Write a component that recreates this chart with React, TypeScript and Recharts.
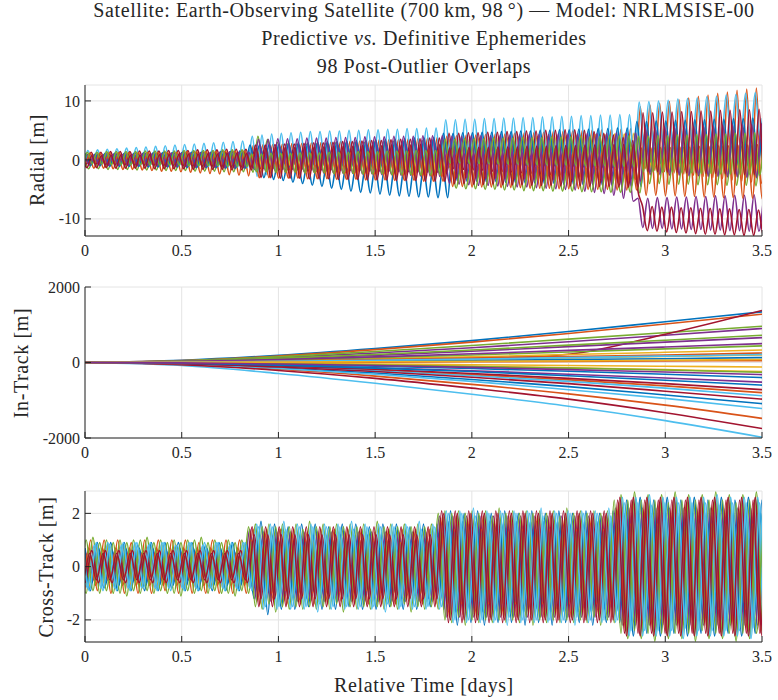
import { LineChart, Line, XAxis, YAxis, CartesianGrid } from "recharts";

const SERIF = "'Liberation Serif', 'DejaVu Serif', 'Noto Serif', Tinos, serif";
const INK = "#262626";

const BLUE = "#0072BD";
const ORANGE = "#D95319";
const YELLOW = "#EDB120";
const PURPLE = "#7E2F8E";
const GREEN = "#77AC30";
const LIGHTBLUE = "#4DBEEE";
const RED = "#A2142F";

const xTicks = [0, 0.5, 1, 1.5, 2, 2.5, 3, 3.5];

// ---------------- Radial [m] : sampled at peaks / troughs, 0.025 d apart ----------------
const radialStep = 0.025;
const radialPhase = [0, 0.029, 0.012, 0.041, 0.006, 0.035, 0.018, 0.047, 0.024, 0.003, 0.038, 0.015];
const radialColors = [BLUE, ORANGE, YELLOW, PURPLE, GREEN, LIGHTBLUE, RED, BLUE, ORANGE, PURPLE, GREEN, RED];

const radialA = [
  0.8, -0.8, 0.9, -0.8, 0.9, -0.9, 1.0, -0.9, 1.0, -1.0,
  1.0, -1.0, 1.1, -1.1, 1.1, -1.1, 1.2, -1.1, 1.2, -1.2,
  1.2, -1.2, 1.3, -1.3, 1.3, -1.3, 1.3, -1.4, 1.4, -1.4,
  1.4, -1.5, 1.5, -1.5, 1.5, -1.6,
  0.5, -3.0, 0.3, -3.3, 0.2, -3.5, 0.0, -3.8, -0.2, -4.0,
  -0.3, -4.3, -0.5, -4.5, -0.6, -4.8, -0.8, -5.0, -0.9, -5.3,
  -1.0, -5.5, -1.0, -5.6, -1.1, -5.8, -1.1, -6.0, -1.2, -6.1,
  -1.2, -6.2, -1.3, -6.3, -1.3, -6.3, -1.2, -6.4, -1.2, -6.4,
  2.0, -3.5, 2.0, -3.6, 2.1, -3.6, 2.1, -3.7, 2.2, -3.7,
  2.2, -3.8, 2.3, -3.8, 2.3, -3.9, 2.4, -3.9, 2.4, -4.0,
  2.5, -4.0, 2.5, -4.1, 2.6, -4.1, 2.6, -4.2, 2.7, -4.2,
  2.7, -4.3, 2.8, -4.3, 2.8, -4.4, 2.9, -4.4, 2.9, -4.5,
  5.0, -2.0, 5.1, -2.1, 5.2, -2.2, 5.3, -2.3, 5.4, -2.4,
  5.5, -2.5, 5.6, -2.6, 5.7, -2.7, 5.8, -2.8, 5.9, -2.9,
  6.0, -3.0, 6.1, -3.1, 6.2, -3.2, 6.3,
];
const radialB = [
  0.7, -1.3, 0.7, -1.4, 0.8, -1.4, 0.8, -1.5, 0.9, -1.6,
  0.9, -1.6, 1.0, -1.7, 1.0, -1.8, 1.0, -1.9, 1.1, -1.9,
  1.1, -2.0, 1.2, -2.1, 1.2, -2.2, 1.3, -2.3, 1.3, -2.4,
  1.4, -2.5, 1.4, -2.6, 1.5, -2.7,
  2.5, -1.5, 2.6, -1.6, 2.6, -1.7, 2.7, -1.7, 2.8, -1.8,
  2.8, -1.9, 2.9, -2.0, 3.0, -2.0, 3.0, -2.1, 3.1, -2.2,
  3.2, -2.2, 3.2, -2.3, 3.3, -2.4, 3.4, -2.4, 3.4, -2.5,
  3.5, -2.6, 3.6, -2.6, 3.6, -2.7, 3.7, -2.8, 3.8, -2.8,
  4.0, -2.0, 4.1, -2.1, 4.2, -2.1, 4.2, -2.2, 4.3, -2.3,
  4.4, -2.3, 4.4, -2.4, 4.5, -2.5, 4.6, -2.5, 4.6, -2.6,
  4.7, -2.7, 4.8, -2.7, 4.8, -2.8, 4.9, -2.9, 5.0, -2.9,
  5.0, -3.0, 5.1, -3.1, 5.2, -3.1, 5.2, -3.2, 5.3, -3.3,
  9.0, -1.5, 9.3, -1.8, 9.6, -2.0, 9.9, -2.2, 10.2, -2.4,
  10.5, -2.6, 10.8, -2.8, 11.0, -3.0, 11.3, -3.2, 11.5, -3.4,
  11.8, -3.6, 12.0, -3.8, 12.2, -4.0, 12.3,
];
const radialC = [
  0.5, -0.5, 0.5, -0.6, 0.6, -0.6, 0.6, -0.6, 0.6, -0.7,
  0.7, -0.7, 0.7, -0.7, 0.7, -0.8, 0.8, -0.8, 0.8, -0.8,
  0.8, -0.9, 0.9, -0.9, 0.9, -0.9, 0.9, -1.0, 1.0, -1.0,
  1.0, -1.0, 1.0, -1.1, 1.1, -1.1,
  2.0, -1.0, 2.0, -1.0, 2.1, -1.1, 2.1, -1.1, 2.2, -1.2,
  2.2, -1.2, 2.3, -1.3, 2.3, -1.3, 2.3, -1.3, 2.4, -1.4,
  2.4, -1.4, 2.5, -1.5, 2.5, -1.5, 2.5, -1.5, 2.6, -1.6,
  2.6, -1.6, 2.7, -1.7, 2.7, -1.7, 2.7, -1.7, 2.8, -1.8,
  3.5, -0.5, 3.6, -0.6, 3.6, -0.6, 3.7, -0.7, 3.7, -0.7,
  3.8, -0.8, 3.8, -0.8, 3.9, -0.9, 3.9, -0.9, 4.0, -1.0,
  4.0, -1.0, 4.1, -1.1, 4.1, -1.1, 4.2, -1.2, 4.2, -1.2,
  4.3, -1.3, 4.3, -1.3, 4.4, -1.4, 4.4, -1.4, 4.5, -1.5,
  2.5, -2.5, 2.6, -2.5, 2.6, -2.6, 2.7, -2.6, 2.7, -2.7,
  2.8, -2.7, 2.8, -2.8, 2.9, -2.8, 2.9, -2.9, 3.0, -2.9,
  3.0, -3.0, 3.1, -3.0, 3.1, -3.1, 3.2,
];
const radialD = [
  1.0, -0.6, 1.0, -0.6, 1.1, -0.7, 1.1, -0.7, 1.1, -0.7,
  1.2, -0.8, 1.2, -0.8, 1.2, -0.8, 1.3, -0.9, 1.3, -0.9,
  1.3, -0.9, 1.4, -1.0, 1.4, -1.0, 1.4, -1.0, 1.5, -1.1,
  1.5, -1.1, 1.5, -1.1, 1.6, -1.2,
  1.8, -1.8, 1.9, -1.9, 1.9, -1.9, 2.0, -2.0, 2.0, -2.0,
  2.1, -2.1, 2.1, -2.1, 2.2, -2.2, 2.2, -2.2, 2.3, -2.3,
  2.3, -2.3, 2.4, -2.4, 2.4, -2.4, 2.5, -2.5, 2.5, -2.5,
  2.6, -2.6, 2.6, -2.6, 2.7, -2.7, 2.7, -2.7, 2.8, -2.8,
  1.0, -4.0, 1.0, -4.1, 1.1, -4.2, 1.1, -4.3, 1.2, -4.3,
  1.2, -4.4, 1.2, -4.5, 1.3, -4.6, 1.3, -4.6, 1.3, -4.7,
  1.3, -4.8, 1.3, -4.9, 1.2, -5.0, 1.1, -5.1, 1.0, -5.3,
  0.9, -5.5, 0.7, -5.7, 0.5, -6.0, 0.2, -6.5, 0.0, -7.0,
  -6.5, -11.5, -6.5, -11.6, -6.4, -11.6, -6.4, -11.7, -6.3, -11.7,
  -6.3, -11.8, -6.2, -11.8, -6.2, -11.9, -6.1, -11.9, -6.1, -12.0,
  -6.0, -12.0, -6.0, -12.1, -5.9, -12.1, -5.9,
];
const radialE = [
  0.5, -1.5, 0.5, -1.5, 0.6, -1.6, 0.6, -1.6, 0.6, -1.6,
  0.7, -1.7, 0.7, -1.7, 0.7, -1.7, 0.8, -1.8, 0.8, -1.8,
  0.8, -1.8, 0.9, -1.9, 0.9, -1.9, 0.9, -1.9, 1.0, -2.0,
  1.0, -2.0, 1.0, -2.0, 1.1, -2.1,
  4.0, -0.5, 3.5, -0.5, 3.0, -0.6, 2.8, -0.6, 2.7, -0.7,
  2.7, -0.7, 2.8, -0.8, 2.8, -0.8, 2.9, -0.9, 2.9, -0.9,
  3.0, -1.0, 3.0, -1.0, 3.1, -1.1, 3.1, -1.1, 3.2, -1.2,
  3.2, -1.2, 3.3, -1.3, 3.3, -1.3, 3.4, -1.4, 3.4, -1.4,
  -1.0, -4.8, -1.0, -4.9, -1.1, -4.9, -1.1, -5.0, -1.1, -5.0,
  -1.2, -5.1, -1.2, -5.1, -1.2, -5.2, -1.3, -5.2, -1.3, -5.2,
  -1.3, -5.3, -1.4, -5.3, -1.4, -5.3, -1.4, -5.4, -1.5, -5.4,
  -1.5, -5.4, -1.5, -5.5, -1.6, -5.5, -1.6, -5.5, -1.6, -5.6,
  2.0, -4.0, 2.0, -4.0, 2.1, -4.1, 2.1, -4.1, 2.1, -4.1,
  2.2, -4.2, 2.2, -4.2, 2.2, -4.2, 2.3, -4.3, 2.3, -4.3,
  2.3, -4.3, 2.4, -4.4, 2.4, -4.4, 2.4,
];
const radialF = [
  1.5, -0.5, 1.6, -0.5, 1.7, -0.6, 1.8, -0.6, 1.9, -0.6,
  2.0, -0.7, 2.1, -0.7, 2.2, -0.8, 2.3, -0.8, 2.4, -0.9,
  2.5, -0.9, 2.6, -1.0, 2.7, -1.0, 2.8, -1.1, 2.9, -1.1,
  3.0, -1.2, 3.1, -1.2, 3.2, -1.3,
  4.0, -2.8, 4.2, -2.5, 4.4, -2.0, 4.5, -1.5, 4.6, -1.0,
  4.7, -0.8, 4.8, -0.8, 4.8, -0.8, 4.9, -0.9, 4.9, -0.9,
  5.0, -1.0, 5.0, -1.0, 5.1, -1.1, 5.1, -1.1, 5.2, -1.2,
  5.2, -1.2, 5.3, -1.3, 5.3, -1.3, 5.4, -1.4, 5.4, -1.4,
  6.8, -0.5, 6.8, -0.5, 6.9, -0.6, 6.9, -0.6, 7.0, -0.7,
  7.0, -0.7, 7.1, -0.8, 7.1, -0.8, 7.2, -0.9, 7.2, -0.9,
  7.3, -1.0, 7.3, -1.0, 7.4, -1.1, 7.4, -1.1, 7.5, -1.2,
  7.5, -1.2, 7.6, -1.3, 7.6, -1.3, 7.7, -1.4, 7.7, -1.4,
  9.8, 2.0, 9.9, 2.2, 10.0, 2.4, 10.1, 2.5, 10.3, 2.7,
  10.4, 2.8, 10.5, 3.0, 10.7, 3.1, 10.8, 3.2, 11.0, 3.3,
  11.1, 3.4, 11.3, 3.5, 11.4, 3.6, 11.5,
];
const radialG = [
  1.3, -0.7, 1.3, -0.7, 1.3, -0.8, 1.4, -0.8, 1.4, -0.8,
  1.4, -0.9, 1.5, -0.9, 1.5, -0.9, 1.5, -1.0, 1.6, -1.0,
  1.6, -1.0, 1.6, -1.1, 1.7, -1.1, 1.7, -1.1, 1.7, -1.2,
  1.8, -1.2, 1.8, -1.2, 1.8, -1.3,
  2.5, -1.5, 2.5, -1.6, 2.6, -1.7, 2.7, -1.7, 2.7, -1.8,
  2.8, -1.9, 2.9, -1.9, 2.9, -2.0, 3.0, -2.1, 3.1, -2.1,
  3.1, -2.2, 3.2, -2.3, 3.3, -2.3, 3.3, -2.4, 3.4, -2.5,
  3.5, -2.5, 3.5, -2.6, 3.6, -2.7, 3.7, -2.7, 3.7, -2.8,
  4.5, -1.5, 4.5, -1.6, 4.6, -1.7, 4.6, -1.8, 4.7, -1.9,
  4.7, -2.0, 4.8, -2.1, 4.8, -2.2, 4.9, -2.3, 4.9, -2.4,
  5.0, -2.5, 5.0, -2.6, 5.1, -2.7, 5.1, -2.8, 5.0, -3.0,
  4.8, -3.3, 4.5, -3.6, 4.2, -4.0, 3.8, -4.5, 3.3, -5.0,
  -7.8, -12.0, -7.9, -12.1, -8.0, -12.2, -8.0, -12.3, -8.1, -12.4,
  -8.1, -12.5, -8.2, -12.6, -8.2, -12.6, -8.3, -12.7, -8.3, -12.7,
  -8.4, -12.8, -8.4, -12.8, -8.5, -12.8, -8.5,
];
const radialH = [
  1.0, -1.0, 1.0, -1.0, 1.0, -1.0, 1.1, -1.1, 1.1, -1.1,
  1.1, -1.1, 1.1, -1.1, 1.2, -1.2, 1.2, -1.2, 1.2, -1.2,
  1.2, -1.2, 1.3, -1.3, 1.3, -1.3, 1.3, -1.3, 1.3, -1.3,
  1.4, -1.4, 1.4, -1.4, 1.4, -1.4,
  2.5, -0.5, 2.6, -0.6, 2.7, -0.6, 2.7, -0.7, 2.8, -0.8,
  2.9, -0.8, 2.9, -0.9, 3.0, -1.0, 3.1, -1.0, 3.1, -1.1,
  3.2, -1.2, 3.3, -1.2, 3.3, -1.3, 3.4, -1.4, 3.5, -1.4,
  3.5, -1.5, 3.6, -1.6, 3.7, -1.6, 3.7, -1.7, 3.8, -1.8,
  4.5, -0.5, 4.5, -0.5, 4.6, -0.6, 4.6, -0.6, 4.7, -0.7,
  4.7, -0.7, 4.8, -0.8, 4.8, -0.8, 4.9, -0.9, 4.9, -0.9,
  5.0, -1.0, 5.0, -1.0, 5.1, -1.1, 5.1, -1.1, 5.2, -1.2,
  5.2, -1.2, 5.3, -1.3, 5.3, -1.3, 5.4, -1.4, 5.4, -1.4,
  6.5, -0.5, 6.5, -0.5, 6.6, -0.6, 6.6, -0.6, 6.7, -0.7,
  6.7, -0.7, 6.8, -0.8, 6.8, -0.8, 6.9, -0.9, 6.9, -0.9,
  7.0, -1.0, 7.0, -1.0, 7.1, -1.1, 7.1,
];
const radialI = [
  1.1, -0.5, 1.1, -0.5, 1.1, -0.5, 1.2, -0.6, 1.2, -0.6,
  1.2, -0.6, 1.2, -0.6, 1.3, -0.7, 1.3, -0.7, 1.3, -0.7,
  1.3, -0.7, 1.4, -0.8, 1.4, -0.8, 1.4, -0.8, 1.4, -0.8,
  1.5, -0.9, 1.5, -0.9, 1.5, -0.9,
  1.0, -3.0, 1.0, -3.0, 1.0, -3.1, 1.1, -3.1, 1.1, -3.1,
  1.1, -3.2, 1.2, -3.2, 1.2, -3.2, 1.2, -3.3, 1.3, -3.3,
  1.3, -3.3, 1.3, -3.4, 1.4, -3.4, 1.4, -3.4, 1.4, -3.5,
  1.5, -3.5, 1.5, -3.5, 1.5, -3.6, 1.6, -3.6, 1.6, -3.6,
  1.5, -4.5, 1.5, -4.5, 1.6, -4.6, 1.6, -4.6, 1.6, -4.6,
  1.7, -4.7, 1.7, -4.7, 1.7, -4.7, 1.8, -4.8, 1.8, -4.8,
  1.8, -4.8, 1.9, -4.9, 1.9, -4.9, 1.9, -4.9, 2.0, -5.0,
  2.0, -5.0, 2.0, -5.0, 2.1, -5.1, 2.1, -5.1, 2.1, -5.1,
  2.0, -6.0, 2.0, -6.0, 2.1, -6.1, 2.1, -6.1, 2.2, -6.2,
  2.2, -6.2, 2.3, -6.3, 2.3, -6.3, 2.4, -6.4, 2.4, -6.4,
  2.5, -6.5, 2.5, -6.5, 2.6, -6.6, 2.6,
];
const radialJ = [
  0.8, -0.8, 0.8, -0.8, 0.8, -0.9, 0.9, -0.9, 0.9, -0.9,
  0.9, -1.0, 1.0, -1.0, 1.0, -1.0, 1.0, -1.1, 1.1, -1.1,
  1.1, -1.1, 1.1, -1.2, 1.2, -1.2, 1.2, -1.2, 1.2, -1.3,
  1.3, -1.3, 1.3, -1.3, 1.3, -1.4,
  3.5, -1.5, 3.5, -1.5, 3.6, -1.6, 3.6, -1.6, 3.6, -1.6,
  3.7, -1.7, 3.7, -1.7, 3.7, -1.7, 3.8, -1.8, 3.8, -1.8,
  3.8, -1.8, 3.9, -1.9, 3.9, -1.9, 3.9, -1.9, 4.0, -2.0,
  4.0, -2.0, 4.0, -2.0, 4.1, -2.1, 4.1, -2.1, 4.1, -2.1,
  4.0, -3.0, 4.0, -3.0, 4.1, -3.1, 4.1, -3.1, 4.1, -3.1,
  4.2, -3.2, 4.2, -3.2, 4.2, -3.2, 4.3, -3.3, 4.3, -3.3,
  4.3, -3.3, 4.4, -3.4, 4.4, -3.4, 4.4, -3.4, 4.5, -3.5,
  4.5, -3.5, 4.5, -3.5, 4.6, -3.6, 4.6, -3.6, 4.6, -3.6,
  5.5, -2.5, 5.5, -2.5, 5.6, -2.6, 5.6, -2.6, 5.7, -2.7,
  5.7, -2.7, 5.8, -2.8, 5.8, -2.8, 5.9, -2.9, 5.9, -2.9,
  6.0, -3.0, 6.0, -3.0, 6.1, -3.1, 6.1,
];
const radialK = [
  1.3, -0.7, 1.3, -0.7, 1.3, -0.7, 1.4, -0.8, 1.4, -0.8,
  1.4, -0.8, 1.4, -0.8, 1.5, -0.9, 1.5, -0.9, 1.5, -0.9,
  1.5, -0.9, 1.6, -1.0, 1.6, -1.0, 1.6, -1.0, 1.6, -1.0,
  1.7, -1.1, 1.7, -1.1, 1.7, -1.1,
  1.0, -2.0, 1.0, -2.0, 1.1, -2.1, 1.1, -2.1, 1.1, -2.1,
  1.2, -2.2, 1.2, -2.2, 1.2, -2.2, 1.3, -2.3, 1.3, -2.3,
  1.3, -2.3, 1.4, -2.4, 1.4, -2.4, 1.4, -2.4, 1.5, -2.5,
  1.5, -2.5, 1.5, -2.5, 1.6, -2.6, 1.6, -2.6, 1.6, -2.6,
  3.5, -0.5, 3.5, -0.5, 3.6, -0.6, 3.6, -0.6, 3.6, -0.6,
  3.7, -0.7, 3.7, -0.7, 3.7, -0.7, 3.8, -0.8, 3.8, -0.8,
  3.8, -0.8, 3.9, -0.9, 3.9, -0.9, 3.9, -0.9, 4.0, -1.0,
  4.0, -1.0, 4.0, -1.0, 4.1, -1.1, 4.1, -1.1, 4.1, -1.1,
  4.0, -2.0, 4.0, -2.0, 4.1, -2.1, 4.1, -2.1, 4.2, -2.2,
  4.2, -2.2, 4.3, -2.3, 4.3, -2.3, 4.4, -2.4, 4.4, -2.4,
  4.5, -2.5, 4.5, -2.5, 4.6, -2.6, 4.6,
];
const radialL = [
  0.7, -1.3, 0.7, -1.3, 0.7, -1.3, 0.8, -1.4, 0.8, -1.4,
  0.8, -1.4, 0.8, -1.4, 0.9, -1.5, 0.9, -1.5, 0.9, -1.5,
  0.9, -1.5, 1.0, -1.6, 1.0, -1.6, 1.0, -1.6, 1.0, -1.6,
  1.1, -1.7, 1.1, -1.7, 1.1, -1.7,
  2.0, -3.0, 2.0, -3.0, 2.1, -3.1, 2.1, -3.1, 2.1, -3.1,
  2.2, -3.2, 2.2, -3.2, 2.2, -3.2, 2.3, -3.3, 2.3, -3.3,
  2.3, -3.3, 2.4, -3.4, 2.4, -3.4, 2.4, -3.4, 2.5, -3.5,
  2.5, -3.5, 2.5, -3.5, 2.6, -3.6, 2.6, -3.6, 2.6, -3.6,
  2.0, -4.0, 2.0, -4.0, 2.1, -4.1, 2.1, -4.1, 2.1, -4.1,
  2.2, -4.2, 2.2, -4.2, 2.2, -4.2, 2.3, -4.3, 2.3, -4.3,
  2.3, -4.3, 2.4, -4.4, 2.4, -4.4, 2.4, -4.4, 2.5, -4.5,
  2.5, -4.5, 2.5, -4.5, 2.6, -4.6, 2.6, -4.6, 2.6, -4.6,
  8.0, -2.0, 8.0, -2.0, 8.1, -2.1, 8.1, -2.1, 8.2, -2.2,
  8.2, -2.2, 8.3, -2.3, 8.3, -2.3, 8.4, -2.4, 8.4, -2.4,
  8.5, -2.5, 8.5, -2.5, 8.6, -2.6, 8.6,
];
const radialRuns = [radialA, radialB, radialC, radialD, radialE, radialF, radialG, radialH, radialI, radialJ, radialK, radialL];

// ---------------- In-Track [m] : read every 0.5 d ----------------
const inTrackTimes = [0, 0.5, 1, 1.5, 2, 2.5, 3, 3.5];
const inTrackColors = [BLUE, ORANGE, YELLOW, PURPLE, GREEN, LIGHTBLUE, RED];
const inTrackRuns = [
  [0, 60, 190, 370, 580, 820, 1080, 1340],
  [0, 50, 170, 340, 540, 770, 1020, 1280],
  [0, 10, 30, 55, 85, 120, 160, 200],
  [0, 40, 130, 250, 390, 550, 720, 900],
  [0, 45, 150, 290, 450, 620, 790, 960],
  [0, -80, -290, -550, -840, -1160, -1540, -1980],
  [0, 15, 40, 70, 100, 220, 750, 1380],
  [0, -40, -140, -280, -450, -640, -860, -1090],
  [0, -50, -180, -360, -580, -830, -1130, -1480],
  [0, -10, -30, -60, -100, -140, -190, -240],
  [0, 30, 100, 190, 300, 420, 540, 660],
  [0, 35, 110, 210, 330, 460, 590, 720],
  [0, -45, -160, -310, -500, -720, -950, -1220],
  [0, -60, -210, -420, -680, -970, -1330, -1750],
  [0, 5, 20, 40, 60, 80, 100, 130],
  [0, -30, -100, -200, -320, -460, -620, -800],
  [0, 15, 50, 95, 150, 210, 270, 330],
  [0, -20, -70, -140, -220, -310, -410, -520],
  [0, 20, 70, 130, 200, 280, 360, 440],
  [0, -30, -110, -220, -350, -500, -680, -880],
  [0, -25, -90, -180, -290, -420, -560, -720],
  [0, -15, -50, -100, -160, -230, -310, -400],
  [0, 10, 40, 80, 120, 160, 200, 250],
  [0, -5, -20, -40, -60, -80, -100, -120],
  [0, 25, 80, 150, 230, 320, 410, 500],
  [0, -10, -35, -70, -110, -150, -200, -260],
  [0, 10, 30, 60, 90, 130, 170, 210],
  [0, -35, -120, -240, -390, -560, -760, -970],
  [0, -20, -70, -150, -240, -350, -470, -600],
  [0, 0, 0, 10, 20, 30, 40, 50],
  [0, 5, 10, 20, 30, 40, 60, 80],
  [0, -10, -40, -80, -130, -190, -250, -320],
];

// ---------------- Cross-Track [m] : sampled at peaks / troughs, 0.035 d apart ----------------
const crossStep = 0.035;
const crossPhase = [0, 0.041, 0.017, 0.058, 0.029, 0.007, 0.05, 0.022, 0.064, 0.035, 0.012, 0.046];
const crossColors = [BLUE, ORANGE, YELLOW, PURPLE, GREEN, BLUE, ORANGE, LIGHTBLUE, GREEN, RED, LIGHTBLUE, RED];

const crossA = [
  0.7, -0.6, 0.7, -0.7, 0.6, -0.7, 0.7, -0.6, 0.7, -0.7,
  0.7, -0.7, 0.6, -0.7, 0.7, -0.7, 0.7, -0.6, 0.7, -0.7,
  0.7, -0.7, 0.6, -0.7, 0.6, -1.2,
  1.7, -1.8, 1.6, -1.6, 1.5, -1.6, 1.6, -1.5, 1.6, -1.6,
  1.5, -1.6, 1.6, -1.5, 1.6, -1.6, 1.5, -1.6, 1.6, -1.5,
  1.6, -1.6, 1.5, -1.6, 1.6, -1.5, 1.6, -1.6,
  2.1, -2.2, 2.0, -2.1, 2.1, -2.2, 2.0, -2.1, 2.1, -2.1,
  2.0, -2.2, 2.1, -2.1, 2.0, -2.2, 2.1, -2.1, 2.0, -2.1,
  2.1, -2.2, 2.0, -2.1, 2.1, -2.1,
  2.5, -2.6, 2.6, -2.5, 2.5, -2.6, 2.6, -2.5, 2.5, -2.6,
  2.6, -2.5, 2.5, -2.6, 2.6, -2.5, 2.5, -2.6, 2.6, -2.5,
  2.5, -2.6, 2.6,
];
const crossB = [
  1.0, -1.0, 1.0, -0.9, 1.0, -1.0, 1.0, -1.0, 0.9, -1.0,
  1.0, -1.0, 1.0, -0.9, 1.0, -1.0, 1.0, -1.0, 0.9, -1.0,
  1.0, -1.0, 1.0, -1.0, 1.0, -1.0,
  1.4, -1.4, 1.4, -1.3, 1.4, -1.4, 1.4, -1.4, 1.3, -1.4,
  1.4, -1.4, 1.4, -1.3, 1.4, -1.4, 1.4, -1.4, 1.3, -1.4,
  1.4, -1.4, 1.4, -1.3, 1.4, -1.4, 1.4, -1.4,
  1.9, -1.9, 1.9, -1.8, 1.9, -1.9, 1.9, -1.9, 1.8, -1.9,
  1.9, -1.9, 1.9, -1.8, 1.9, -1.9, 1.9, -1.9, 1.8, -1.9,
  1.9, -1.9, 1.9, -1.8, 1.9, -1.9,
  2.4, -2.4, 2.4, -2.3, 2.4, -2.4, 2.4, -2.4, 2.3, -2.4,
  2.4, -2.4, 2.4, -2.3, 2.4, -2.4, 2.4, -2.4, 2.3, -2.4,
  2.4, -2.4, 2.4,
];
const crossC = [
  0.8, -0.8, 0.8, -0.7, 0.8, -0.8, 0.8, -0.8, 0.7, -0.8,
  0.8, -0.8, 0.8, -0.7, 0.8, -0.8, 0.8, -0.8, 0.7, -0.8,
  0.8, -0.8, 0.8, -0.8, 0.8, -0.7,
  1.3, -1.3, 1.3, -1.2, 1.3, -1.3, 1.3, -1.3, 1.2, -1.3,
  1.3, -1.3, 1.3, -1.2, 1.3, -1.3, 1.3, -1.3, 1.2, -1.3,
  1.3, -1.3, 1.3, -1.2, 1.3, -1.3, 1.3, -1.3,
  1.6, -1.6, 1.6, -1.5, 1.6, -1.6, 1.6, -1.6, 1.5, -1.6,
  1.6, -1.6, 1.6, -1.5, 1.6, -1.6, 1.6, -1.6, 1.5, -1.6,
  1.6, -1.6, 1.6, -1.5, 1.6, -1.6,
  1.9, -1.9, 1.9, -1.8, 1.9, -1.9, 1.9, -1.9, 1.8, -1.9,
  1.9, -1.9, 1.9, -1.8, 1.9, -1.9, 1.9, -1.9, 1.8, -1.9,
  1.9, -1.9, 1.9,
];
const crossD = [
  0.5, -0.5, 0.5, -0.5, 0.5, -0.5, 0.5, -0.5, 0.5, -0.5,
  0.5, -0.5, 0.5, -0.5, 0.5, -0.5, 0.5, -0.5, 0.5, -0.5,
  0.5, -0.5, 0.5, -0.5, 0.5, -0.5,
  1.4, -1.3, 1.3, -1.3, 1.3, -1.3, 1.3, -1.3, 1.3, -1.3,
  1.3, -1.3, 1.3, -1.3, 1.3, -1.3, 1.3, -1.3, 1.3, -1.3,
  1.3, -1.3, 1.3, -1.3, 1.3, -1.3, 1.3, -1.3,
  1.9, -1.9, 1.9, -1.9, 1.9, -1.9, 1.9, -1.9, 1.9, -1.9,
  1.9, -1.9, 1.9, -1.9, 1.9, -1.9, 1.9, -1.9, 1.9, -1.9,
  1.9, -1.9, 1.9, -1.9, 1.9, -1.9,
  2.2, -2.2, 2.2, -2.2, 2.2, -2.2, 2.2, -2.2, 2.2, -2.2,
  2.2, -2.2, 2.2, -2.2, 2.2, -2.2, 2.2, -2.2, 2.2, -2.2,
  2.2, -2.2, 2.2,
];
const crossE = [
  1.0, -1.0, 1.1, -1.0, 1.0, -1.0, 1.0, -1.1, 1.0, -1.0,
  1.1, -1.0, 1.0, -1.0, 1.0, -1.1, 1.0, -1.0, 1.1, -1.0,
  1.0, -1.0, 1.0, -1.1, 1.0, -1.0,
  1.6, -1.6, 1.6, -1.7, 1.6, -1.6, 1.6, -1.6, 1.7, -1.6,
  1.6, -1.6, 1.6, -1.7, 1.6, -1.6, 1.6, -1.6, 1.7, -1.6,
  1.6, -1.6, 1.6, -1.7, 1.6, -1.6, 1.6, -1.6,
  2.1, -2.1, 2.1, -2.2, 2.1, -2.1, 2.1, -2.1, 2.2, -2.1,
  2.1, -2.1, 2.1, -2.2, 2.1, -2.1, 2.1, -2.1, 2.2, -2.1,
  2.1, -2.1, 2.1, -2.2, 2.1, -2.1,
  2.7, -2.7, 2.8, -2.7, 2.7, -2.8, 2.7, -2.7, 2.8, -2.7,
  2.7, -2.8, 2.7, -2.7, 2.8, -2.7, 2.7, -2.8, 2.7, -2.7,
  2.8, -2.7, 2.7,
];
const crossF = [
  0.9, -0.9, 0.9, -0.8, 0.9, -0.9, 0.9, -0.9, 0.8, -0.9,
  0.9, -0.9, 0.9, -0.8, 0.9, -0.9, 0.9, -0.9, 0.8, -0.9,
  0.9, -0.9, 0.9, -0.9, 0.9, -0.8,
  1.2, -1.2, 1.2, -1.1, 1.2, -1.2, 1.2, -1.2, 1.1, -1.2,
  1.2, -1.2, 1.2, -1.1, 1.2, -1.2, 1.2, -1.2, 1.1, -1.2,
  1.2, -1.2, 1.2, -1.1, 1.2, -1.2, 1.2, -1.2,
  1.7, -1.7, 1.7, -1.6, 1.7, -1.7, 1.7, -1.7, 1.6, -1.7,
  1.7, -1.7, 1.7, -1.6, 1.7, -1.7, 1.7, -1.7, 1.6, -1.7,
  1.7, -1.7, 1.7, -1.6, 1.7, -1.7,
  2.0, -2.0, 2.0, -1.9, 2.0, -2.0, 2.0, -2.0, 1.9, -2.0,
  2.0, -2.0, 2.0, -1.9, 2.0, -2.0, 2.0, -2.0, 1.9, -2.0,
  2.0, -2.0, 2.0,
];
const crossG = [
  0.7, -0.7, 0.7, -0.7, 0.7, -0.6, 0.7, -0.7, 0.7, -0.7,
  0.6, -0.7, 0.7, -0.7, 0.7, -0.7, 0.7, -0.6, 0.7, -0.7,
  0.7, -0.7, 0.6, -0.7, 0.7, -0.7,
  1.0, -1.0, 1.0, -1.0, 1.0, -0.9, 1.0, -1.0, 1.0, -1.0,
  0.9, -1.0, 1.0, -1.0, 1.0, -1.0, 1.0, -0.9, 1.0, -1.0,
  1.0, -1.0, 0.9, -1.0, 1.0, -1.0, 1.0, -1.0,
  1.4, -1.4, 1.4, -1.4, 1.4, -1.3, 1.4, -1.4, 1.4, -1.4,
  1.3, -1.4, 1.4, -1.4, 1.4, -1.4, 1.4, -1.3, 1.4, -1.4,
  1.4, -1.4, 1.3, -1.4, 1.4, -1.4,
  1.6, -1.6, 1.6, -1.6, 1.6, -1.5, 1.6, -1.6, 1.6, -1.6,
  1.5, -1.6, 1.6, -1.6, 1.6, -1.6, 1.6, -1.5, 1.6, -1.6,
  1.6, -1.6, 1.5,
];
const crossH = [
  0.9, -0.8, 0.8, -0.8, 0.9, -0.8, 0.8, -0.8, 0.9, -0.8,
  0.8, -0.8, 0.9, -0.8, 0.8, -0.8, 0.9, -0.8, 0.8, -0.8,
  0.9, -0.8, 0.8, -0.8, 0.9, -0.8,
  1.6, -1.6, 1.6, -1.6, 1.7, -1.6, 1.6, -1.6, 1.6, -1.7,
  1.6, -1.6, 1.6, -1.6, 1.7, -1.6, 1.6, -1.6, 1.6, -1.7,
  1.6, -1.6, 1.6, -1.6, 1.7, -1.6, 1.6, -1.6,
  2.1, -2.1, 2.1, -2.1, 2.2, -2.1, 2.1, -2.1, 2.1, -2.2,
  2.1, -2.1, 2.1, -2.1, 2.2, -2.1, 2.1, -2.1, 2.1, -2.2,
  2.1, -2.1, 2.1, -2.1, 2.2, -2.1,
  2.6, -2.6, 2.6, -2.6, 2.7, -2.6, 2.6, -2.6, 2.6, -2.7,
  2.6, -2.6, 2.6, -2.6, 2.7, -2.6, 2.6, -2.6, 2.6, -2.7,
  2.6, -2.6, 2.6,
];
const crossI = [
  0.9, -0.9, 1.0, -0.9, 0.9, -0.9, 0.9, -1.0, 0.9, -0.9,
  1.0, -0.9, 0.9, -0.9, 0.9, -1.0, 0.9, -0.9, 1.0, -0.9,
  0.9, -0.9, 0.9, -1.0, 0.9, -0.9,
  1.5, -1.5, 1.5, -1.4, 1.5, -1.5, 1.5, -1.5, 1.4, -1.5,
  1.5, -1.5, 1.5, -1.4, 1.5, -1.5, 1.5, -1.5, 1.4, -1.5,
  1.5, -1.5, 1.5, -1.4, 1.5, -1.5, 1.5, -1.5,
  2.0, -2.0, 2.0, -1.9, 2.0, -2.0, 2.0, -2.0, 1.9, -2.0,
  2.0, -2.0, 2.0, -1.9, 2.0, -2.0, 2.0, -2.0, 1.9, -2.0,
  2.0, -2.0, 2.0, -1.9, 2.0, -2.0,
  2.5, -2.5, 2.5, -2.4, 2.5, -2.5, 2.5, -2.5, 2.4, -2.5,
  2.5, -2.5, 2.5, -2.4, 2.5, -2.5, 2.5, -2.5, 2.4, -2.5,
  2.5, -2.5, 2.5,
];
const crossJ = [
  0.6, -0.6, 0.6, -0.6, 0.6, -0.6, 0.6, -0.6, 0.6, -0.6,
  0.6, -0.6, 0.6, -0.6, 0.6, -0.6, 0.6, -0.6, 0.6, -0.6,
  0.6, -0.6, 0.6, -0.6, 0.6, -0.6,
  1.2, -1.2, 1.2, -1.2, 1.2, -1.2, 1.2, -1.2, 1.2, -1.2,
  1.2, -1.2, 1.2, -1.2, 1.2, -1.2, 1.2, -1.2, 1.2, -1.2,
  1.2, -1.2, 1.2, -1.2, 1.2, -1.2, 1.2, -1.2,
  2.0, -2.0, 2.0, -2.0, 2.0, -2.0, 2.0, -2.0, 2.0, -2.0,
  2.0, -2.0, 2.0, -2.0, 2.0, -2.0, 2.0, -2.0, 2.0, -2.0,
  2.0, -2.0, 2.0, -2.0, 2.0, -2.0,
  2.6, -2.6, 2.6, -2.6, 2.6, -2.6, 2.6, -2.6, 2.6, -2.6,
  2.6, -2.6, 2.6, -2.6, 2.6, -2.6, 2.6, -2.6, 2.6, -2.6,
  2.6, -2.6, 2.6,
];
const crossK = [
  0.9, -0.9, 0.9, -0.9, 0.8, -0.9, 0.9, -0.9, 0.9, -0.8,
  0.9, -0.9, 0.9, -0.9, 0.8, -0.9, 0.9, -0.9, 0.9, -0.8,
  0.9, -0.9, 0.9, -0.9, 0.9, -0.9,
  1.5, -1.5, 1.5, -1.5, 1.4, -1.5, 1.5, -1.5, 1.5, -1.4,
  1.5, -1.5, 1.5, -1.5, 1.4, -1.5, 1.5, -1.5, 1.5, -1.4,
  1.5, -1.5, 1.5, -1.5, 1.4, -1.5, 1.5, -1.5,
  2.0, -2.0, 2.0, -2.0, 1.9, -2.0, 2.0, -2.0, 2.0, -1.9,
  2.0, -2.0, 2.0, -2.0, 1.9, -2.0, 2.0, -2.0, 2.0, -1.9,
  2.0, -2.0, 2.0, -2.0, 1.9, -2.0,
  2.4, -2.4, 2.4, -2.4, 2.3, -2.4, 2.4, -2.4, 2.4, -2.3,
  2.4, -2.4, 2.4, -2.4, 2.3, -2.4, 2.4, -2.4, 2.4, -2.3,
  2.4, -2.4, 2.4,
];
const crossL = [
  0.5, -0.5, 0.5, -0.5, 0.5, -0.5, 0.5, -0.5, 0.5, -0.5,
  0.5, -0.5, 0.5, -0.5, 0.5, -0.5, 0.5, -0.5, 0.5, -0.5,
  0.5, -0.5, 0.5, -0.5, 0.5, -0.5,
  1.5, -1.5, 1.5, -1.5, 1.5, -1.5, 1.5, -1.5, 1.5, -1.5,
  1.5, -1.5, 1.5, -1.5, 1.5, -1.5, 1.5, -1.5, 1.5, -1.5,
  1.5, -1.5, 1.5, -1.5, 1.5, -1.5, 1.5, -1.5,
  2.1, -2.1, 2.1, -2.1, 2.1, -2.1, 2.1, -2.1, 2.1, -2.1,
  2.1, -2.1, 2.1, -2.1, 2.1, -2.1, 2.1, -2.1, 2.1, -2.1,
  2.1, -2.1, 2.1, -2.1, 2.1, -2.1,
  2.5, -2.5, 2.5, -2.5, 2.5, -2.5, 2.5, -2.5, 2.5, -2.5,
  2.5, -2.5, 2.5, -2.5, 2.5, -2.5, 2.5, -2.5, 2.5, -2.5,
  2.5, -2.5, 2.5,
];
const crossRuns = [crossA, crossB, crossC, crossD, crossE, crossF, crossG, crossH, crossI, crossJ, crossK, crossL];

type Pt = { t: number; v: number };
type Series = { color: string; points: Pt[] };

const sampled = (values: number[], step: number, phase: number): Pt[] =>
  values.map((v, i) => ({ t: +(i * step - phase).toFixed(4), v }));

const radialSeries: Series[] = radialRuns.map((r, i) => ({
  color: radialColors[i],
  points: sampled(r, radialStep, radialPhase[i]),
}));

const inTrackSeries: Series[] = inTrackRuns.map((r, i) => ({
  color: inTrackColors[i % inTrackColors.length],
  points: r.map((v, j) => ({ t: inTrackTimes[j], v })),
}));

const crossSeries: Series[] = crossRuns.map((r, i) => ({
  color: crossColors[i],
  points: sampled(r, crossStep, crossPhase[i]),
}));

const PAD_TOP = 14;

function XTick(props: any) {
  const { x, y, payload } = props;
  const axisY = y - 8;
  return (
    <g>
      <line x1={x} x2={x} y1={axisY} y2={axisY - 6} stroke={INK} strokeWidth={1} />
      <text x={x} y={y} dy="0.75em" textAnchor="middle" fill={INK} fontSize={16} style={{ fontFamily: SERIF }}>
        {payload.value}
      </text>
    </g>
  );
}

function YTick(props: any) {
  const { x, y, payload } = props;
  const axisX = x + 5;
  return (
    <g>
      <line x1={axisX} x2={axisX + 6} y1={y} y2={y} stroke={INK} strokeWidth={1} />
      <text x={x} y={y} dy="0.35em" textAnchor="end" fill={INK} fontSize={16} style={{ fontFamily: SERIF }}>
        {payload.value}
      </text>
    </g>
  );
}

function Panel({
  top,
  plotHeight,
  yDomain,
  yTicks,
  series,
}: {
  top: number;
  plotHeight: number;
  yDomain: [number, number];
  yTicks: number[];
  series: Series[];
}) {
  return (
    <div style={{ position: "absolute", left: 0, top: top - PAD_TOP }}>
      <LineChart width={778} height={plotHeight + PAD_TOP + 30} margin={{ top: PAD_TOP, right: 16, bottom: 0, left: 25 }}>
        <CartesianGrid stroke="#e4e4e4" />
        <XAxis
          type="number"
          dataKey="t"
          domain={[0, 3.5]}
          ticks={xTicks}
          interval={0}
          allowDataOverflow
          height={30}
          tickSize={6}
          tickMargin={2}
          tickLine={false}
          axisLine={{ stroke: INK }}
          tick={<XTick />}
        />
        <YAxis
          type="number"
          dataKey="v"
          domain={yDomain}
          ticks={yTicks}
          interval={0}
          allowDataOverflow
          width={60}
          tickSize={5}
          tickMargin={0}
          tickLine={false}
          axisLine={{ stroke: INK }}
          tick={<YTick />}
        />
        {series.map((s, i) => (
          <Line
            key={i}
            data={s.points}
            dataKey="v"
            type="monotone"
            stroke={s.color}
            strokeWidth={1.6}
            dot={false}
            isAnimationActive={false}
          />
        ))}
      </LineChart>
    </div>
  );
}

const labelStyle = {
  position: "absolute" as const,
  fontFamily: SERIF,
  fontSize: 20,
  letterSpacing: 0.6,
  color: INK,
  whiteSpace: "nowrap" as const,
};

function YLabel({ text, cx, cy }: { text: string; cx: number; cy: number }) {
  return (
    <div
      style={{
        ...labelStyle,
        left: cx,
        top: cy,
        transform: "translate(-50%, -50%) rotate(-90deg)",
      }}
    >
      {text}
    </div>
  );
}

export default function App() {
  return (
    <div style={{ position: "absolute", left: 0, top: 0, width: 778, height: 700, background: "#fff" }}>
      <div
        style={{
          ...labelStyle,
          left: 0,
          width: 848,
          top: -4,
          textAlign: "center",
          lineHeight: "28px",
        }}
      >
        <div>Satellite: Earth-Observing Satellite (700&#8201;km, 98&#8201;°) — Model: NRLMSISE-00</div>
        <div>
          Predictive <i>vs.</i> Definitive Ephemerides
        </div>
        <div>98 Post-Outlier Overlaps</div>
      </div>

      <Panel top={85} plotHeight={151} yDomain={[-12.9, 12.7]} yTicks={[-10, 0, 10]} series={radialSeries} />
      <Panel top={287} plotHeight={151} yDomain={[-2000, 2000]} yTicks={[-2000, 0, 2000]} series={inTrackSeries} />
      <Panel top={491} plotHeight={151} yDomain={[-2.83, 2.84]} yTicks={[-2, 0, 2]} series={crossSeries} />

      <YLabel text="Radial [m]" cx={37} cy={160} />
      <YLabel text="In-Track [m]" cx={21} cy={363} />
      <YLabel text="Cross-Track [m]" cx={46} cy={567} />
      <div style={{ ...labelStyle, left: 0, width: 848, top: 674, textAlign: "center" }}>Relative Time [days]</div>
    </div>
  );
}
